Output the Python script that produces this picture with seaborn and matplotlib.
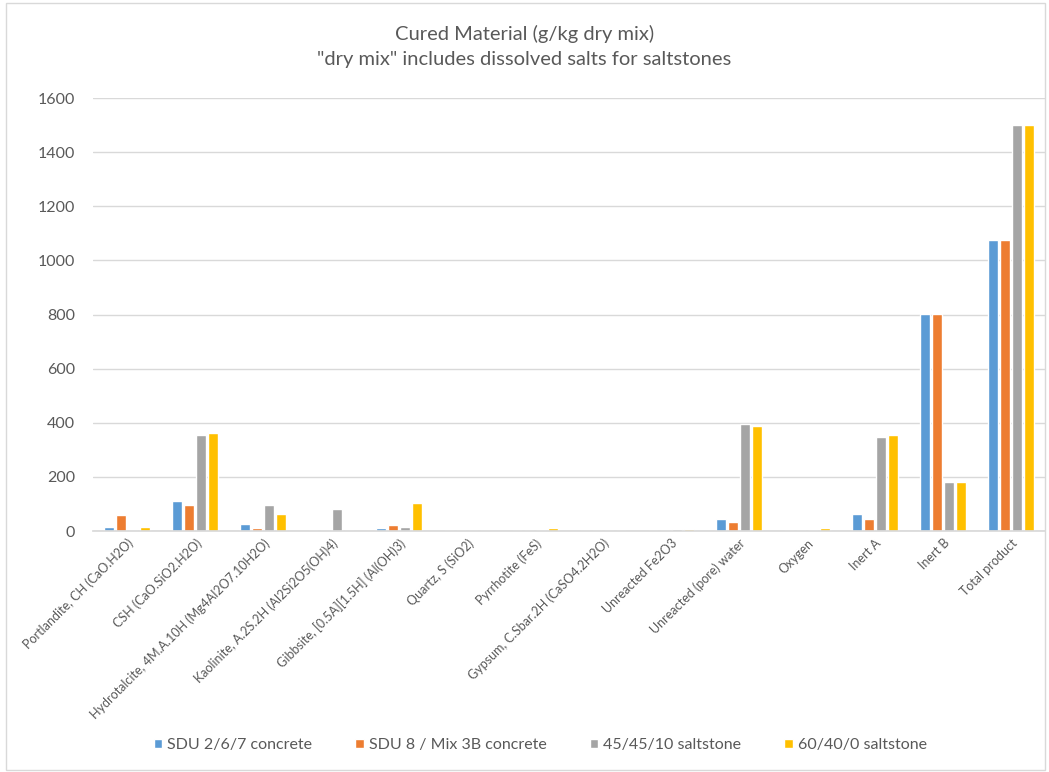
import pandas as pd
import seaborn as sns
import matplotlib.pyplot as plt
from matplotlib.patches import Rectangle

# ---------------------------------------
# Data (g/kg dry mix)
# ---------------------------------------
phases = [
    "Portlandite, CH (CaO.H2O)",
    "CSH (CaO.SiO2.H2O)",
    "Hydrotalcite, 4M.A.10H (Mg4Al2O7.10H2O)",
    "Kaolinite, A.2S.2H (Al2Si2O5(OH)4)",
    "Gibbsite, [0.5A][1.5H] (Al(OH)3)",
    "Quartz, S (SiO2)",
    "Pyrrhotite (FeS)",
    "Gypsum, C.Sbar.2H (CaSO4.2H2O)",
    "Unreacted Fe2O3",
    "Unreacted (pore) water",
    "Oxygen",
    "Inert A",
    "Inert B",
    "Total product",
]
sdu_267 = [17, 112, 25, 0, 11, 0, 0, 0, 0, 44, 0, 63, 802, 1075]
sdu_8 = [58, 96, 12, 0, 21, 0, 2, 0, 0, 35, 0, 44, 802, 1075]
salt_45 = [0, 357, 98, 83, 16, 0, 6, 0, 7, 396, 3, 346, 182, 1502]
salt_60 = [17, 364, 63, 0, 104, 0, 12, 0, 7, 387, 11, 357, 182, 1502]

series_names = ["SDU 2/6/7 concrete", "SDU 8 / Mix 3B concrete",
                "45/45/10 saltstone", "60/40/0 saltstone"]
colors = ["#5B9BD5", "#ED7D31", "#A5A5A5", "#FFC000"]

df = pd.DataFrame({"Phase": phases,
                   series_names[0]: sdu_267,
                   series_names[1]: sdu_8,
                   series_names[2]: salt_45,
                   series_names[3]: salt_60})
long = df.melt(id_vars="Phase", var_name="Series", value_name="Value")

# ---------------------------------------
# Plot
# ---------------------------------------
sns.set_theme(style="white")
plt.rcParams["font.family"] = ["Lato", "DejaVu Sans"]
text_col = "#595959"

fig = plt.figure(figsize=(10.49, 7.72), dpi=100)
ax = fig.add_axes([0.0887, 0.312, 0.9075, 0.561])

sns.barplot(data=long, x="Phase", y="Value", hue="Series",
            hue_order=series_names, palette=colors, saturation=1,
            width=0.71, gap=0.2, ax=ax, legend=True)

ax.set_ylim(0, 1600)
ax.set_yticks(range(0, 1601, 200))
ax.yaxis.grid(True, color="#D9D9D9", linewidth=1)
ax.set_axisbelow(True)
for s in ["top", "right", "left"]:
    ax.spines[s].set_visible(False)
ax.spines["bottom"].set_color("#D9D9D9")
ax.tick_params(axis="both", length=0, colors=text_col)
ax.tick_params(axis="y", labelsize=11.5, pad=13)
ax.tick_params(axis="x", pad=4)
plt.setp(ax.get_xticklabels(), rotation=45, ha="right",
         rotation_mode="anchor", fontsize=9)
ax.set_xlabel("")
ax.set_ylabel("")

fig.suptitle('Cured Material (g/kg dry mix)\n"dry mix" includes dissolved salts for saltstones',
             y=0.968, fontsize=14.5, color=text_col, linespacing=1.6)

ax.legend(loc="center", bbox_to_anchor=(0.515, 0.035), bbox_transform=fig.transFigure,
          ncol=4, frameon=False, fontsize=11.5, handlelength=0.55, handleheight=0.55,
          handletextpad=0.3, columnspacing=2.7, labelcolor=text_col)

# light frame around the chart area
fig.patches.append(Rectangle((0.006, 0.003), 0.99, 0.993, transform=fig.transFigure,
                             fill=False, edgecolor="#D9D9D9", linewidth=1))

fig.savefig("out.png", dpi=100)
